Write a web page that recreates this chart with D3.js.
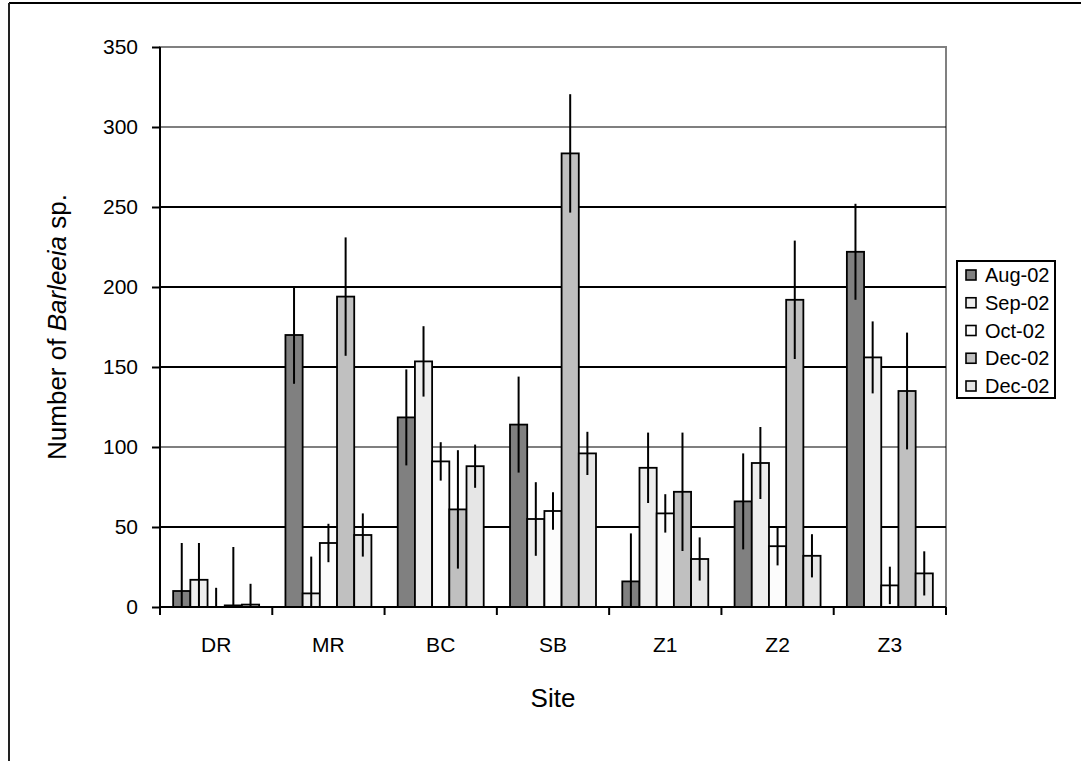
<!DOCTYPE html>
<html>
<head>
<meta charset="utf-8">
<script src="https://cdn.jsdelivr.net/npm/d3@7"></script>
<style>
  html, body { margin: 0; padding: 0; background: #fff; }
  svg { display: block; font-family: Arial, "Liberation Sans", sans-serif; }
</style>
</head>
<body>
<svg id="chart" width="1081" height="761"></svg>
<script>
// ---- data ----
const sites = ["DR", "MR", "BC", "SB", "Z1", "Z2", "Z3"];
const seriesNames = ["Aug-02", "Sep-02", "Oct-02", "Dec-02", "Dec-02 "];
const legendLabels = ["Aug-02", "Sep-02", "Oct-02", "Dec-02", "Dec-02"];
const aug02 = [10, 170, 118.5, 114, 16, 66, 222];
const sep02 = [17, 8.5, 153.5, 55, 87, 90, 156];
const oct02 = [0, 40, 91, 60, 58.5, 38, 13.5];
const dec02a = [1, 194, 61, 283.5, 72, 192, 135];
const dec02b = [1.5, 45, 88, 96, 30, 32, 21];
const aug02Err = [30, 30.5, 30, 30, 30, 30, 30];
const sep02Err = [23, 23, 22, 23, 22, 22.5, 22.5];
const oct02Err = [12, 12, 12, 11.7, 12, 12, 11.7];
const dec02aErr = [36.5, 37, 37, 37, 37, 37, 36.5];
const dec02bErr = [13, 13.5, 13.5, 13.5, 13.5, 13.5, 13.8];
const yTicks = [0, 50, 100, 150, 200, 250, 300, 350];

const seriesValues = [aug02, sep02, oct02, dec02a, dec02b];
const seriesErrors = [aug02Err, sep02Err, oct02Err, dec02aErr, dec02bErr];
const fills = ["#808080", "#eeeeee", "#fcfcfc", "#c0c0c0", "#e6e6e6"];

const svg = d3.select("#chart");
const pL = 160, pR = 946, pT = 47, pB = 607;

// outer frame (top & left edges visible)
svg.append("line").attr("x1", 9).attr("x2", 1081).attr("y1", 3).attr("y2", 3)
  .attr("stroke", "#000").attr("stroke-width", 2);
svg.append("line").attr("x1", 9).attr("x2", 9).attr("y1", 3).attr("y2", 761)
  .attr("stroke", "#222").attr("stroke-width", 2);

const y = d3.scaleLinear().domain([0, 350]).range([pB, pT]);
const x0 = d3.scaleBand().domain(sites).range([pL, pR]).padding(0);
const x1 = d3.scaleBand().domain(seriesNames).range([0, x0.bandwidth()])
  .paddingInner(0).paddingOuter(0.765);

// plot area border (gray)
svg.append("rect").attr("x", pL).attr("y", pT)
  .attr("width", pR - pL).attr("height", pB - pT)
  .attr("fill", "none").attr("stroke", "#808080").attr("stroke-width", 2);

// gridlines
svg.append("g").selectAll("line").data(yTicks.filter(d => d > 0 && d < 350)).join("line")
  .attr("x1", pL).attr("x2", pR)
  .attr("y1", d => y(d)).attr("y2", d => y(d))
  .attr("stroke", "#000").attr("stroke-width", d => (d % 100 === 0 && d !== 200) ? 1.2 : 2);

// bars
const data = [];
sites.forEach((s, i) => {
  seriesNames.forEach((n, j) => {
    data.push({ site: s, series: n, j, value: seriesValues[j][i], err: seriesErrors[j][i] });
  });
});

const g = svg.append("g");
g.selectAll("rect.bar").data(data.filter(d => d.value > 0)).join("rect")
  .attr("class", "bar")
  .attr("x", d => x0(d.site) + x1(d.series))
  .attr("y", d => y(d.value))
  .attr("width", x1.bandwidth())
  .attr("height", d => y(0) - y(d.value))
  .attr("fill", d => fills[d.j])
  .attr("stroke", "#000").attr("stroke-width", 1.8);

// error bars
g.selectAll("line.err").data(data).join("line")
  .attr("class", "err")
  .attr("x1", d => x0(d.site) + x1(d.series) + x1.bandwidth() / 2)
  .attr("x2", d => x0(d.site) + x1(d.series) + x1.bandwidth() / 2)
  .attr("y1", d => y(Math.max(0, d.value - d.err)))
  .attr("y2", d => y(d.value + d.err))
  .attr("stroke", "#000").attr("stroke-width", 2);

// y axis
const yAxis = d3.axisLeft(y).tickValues(yTicks).tickSize(8).tickPadding(14).tickFormat(d3.format("d"));
const ya = svg.append("g").attr("transform", `translate(${pL},0)`).call(yAxis);
ya.select(".domain").attr("stroke", "#000").attr("stroke-width", 2).attr("d", `M0,${pT}V${pB}`);
ya.selectAll(".tick line").attr("stroke", "#000").attr("stroke-width", 2);
ya.selectAll(".tick text").attr("font-size", 21).attr("fill", "#000")
  .attr("font-family", "Arial, 'Liberation Sans', sans-serif");

// x axis
const xAxis = d3.axisBottom(x0).tickSize(0).tickPadding(30);
const xa = svg.append("g").attr("transform", `translate(0,${pB})`).call(xAxis);
xa.select(".domain").attr("stroke", "#000").attr("stroke-width", 2).attr("d", `M${pL},0H${pR}`);
xa.selectAll(".tick text").attr("font-size", 21).attr("fill", "#000")
  .attr("font-family", "Arial, 'Liberation Sans', sans-serif");
// boundary tick marks
const bounds = sites.map(s => x0(s)).concat([pR]);
xa.selectAll("line.bound").data(bounds).join("line").attr("class", "bound")
  .attr("x1", d => d).attr("x2", d => d).attr("y1", 0).attr("y2", 8)
  .attr("stroke", "#000").attr("stroke-width", 2);

// axis titles
const yt = svg.append("text")
  .attr("transform", `translate(66,${(pT + pB) / 2}) rotate(-90)`)
  .attr("text-anchor", "middle").attr("font-size", 26).attr("fill", "#000");
yt.append("tspan").text("Number of ");
yt.append("tspan").attr("font-style", "italic").text("Barleeia");
yt.append("tspan").text(" sp.");

svg.append("text").attr("x", (pL + pR) / 2).attr("y", 707)
  .attr("text-anchor", "middle").attr("font-size", 26).attr("fill", "#000").text("Site");

// legend
const lg = svg.append("g");
lg.append("rect").attr("x", 957).attr("y", 261).attr("width", 98).attr("height", 137)
  .attr("fill", "#fff").attr("stroke", "#000").attr("stroke-width", 2);
const ly = d3.scalePoint().domain(d3.range(5)).range([275, 386]);
const items = lg.selectAll("g.item").data(d3.range(5)).join("g").attr("class", "item")
  .attr("transform", d => `translate(966,${ly(d)})`);
items.append("rect").attr("x", 0).attr("y", -5).attr("width", 10).attr("height", 10)
  .attr("fill", d => fills[d]).attr("stroke", "#000").attr("stroke-width", 1.6);
items.append("text").attr("x", 19).attr("y", 7).attr("font-size", 20).attr("fill", "#000")
  .text(d => legendLabels[d]);
</script>
</body>
</html>
